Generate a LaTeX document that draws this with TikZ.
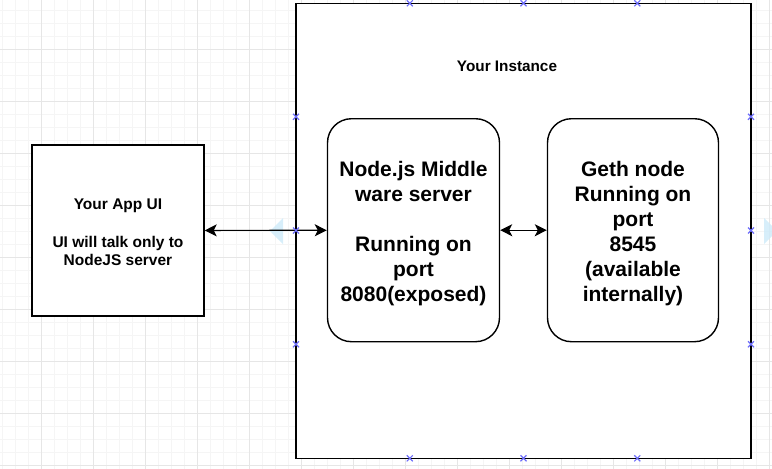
\documentclass[tikz,border=0pt]{standalone}
\usepackage{fontspec}
\setmainfont{Liberation Sans}
\usetikzlibrary{arrows.meta,positioning}
\definecolor{gridminor}{RGB}{245,245,245}
\definecolor{gridmajor}{RGB}{230,230,230}
\definecolor{handleblue}{RGB}{110,110,250}
\definecolor{hintblue}{RGB}{205,234,249}

\begin{document}
\begin{tikzpicture}[x=1pt,y=-1pt,>={Stealth[length=12pt,width=12pt,inset=3pt]}]
  \tikzstyle{box}=[rectangle,draw,line width=1.4pt,fill=white,align=center,font=\fontsize{15.5}{18.5}\selectfont\bfseries]
  \tikzstyle{roundbox}=[box,rounded corners=24pt,font=\fontsize{21}{25}\selectfont\bfseries]
  \tikzstyle{handle}=[handleblue,line width=1.2pt]
  \useasboundingbox (0,0) rectangle (772,469);
  % background grid
  \foreach \x in {2.5,15.5,...,772} \draw[gridminor,line width=1pt] (\x,0) -- (\x,469);
  \foreach \y in {10,23,...,469} \draw[gridminor,line width=1pt] (0,\y) -- (772,\y);
  \foreach \x in {41.5,93.5,...,772} \draw[gridmajor,line width=1pt] (\x,0) -- (\x,469);
  \foreach \y in {49,101,...,469} \draw[gridmajor,line width=1pt] (0,\y) -- (772,\y);
  % boxes
  \node[box,minimum width=455pt,minimum height=455pt] (instance) at (523.5,230.8) {};
  \node[font=\fontsize{15.3}{18}\selectfont\bfseries] (title) at (507,66) {Your Instance};
  \node[box,minimum width=172pt,minimum height=171pt] (app) at (118,230.5)
    {\rule{0pt}{14pt}Your App UI\\[19.5pt]UI will talk only to\\NodeJS server};
  \node[roundbox,minimum width=172pt,minimum height=223pt] (nodejs) at (413.5,230.2)
    {\rule{0pt}{21pt}Node.js Middle\\ware server\\[25pt]Running on\\port\\8080(exposed)};
  \node[roundbox,minimum width=171pt,minimum height=223pt] (geth) at (633,230.2)
    {\rule{0pt}{21pt}Geth node\\Running on\\port\\8545\\(available\\internally)};
  % hover hints
  \fill[hintblue,opacity=0.8] (270,231) -- (283,218) -- (283,244) -- cycle;
  \fill[hintblue,opacity=0.8] (777,231) -- (764,218) -- (764,244) -- cycle;
  % links
  \draw[<->,line width=1.2pt] (app) -- (nodejs);
  \draw[<->,line width=1.2pt] (nodejs) -- (geth);
  % selection handles
  \foreach \x/\y in {409.8/3.3,523.5/3.3,637.3/3.3,409.8/458.3,523.5/458.3,637.3/458.3,
                     296/116.8,296/230.5,296/344.3,751/116.8,751/230.5,751/344.3}
    \draw[handle] (\x-3,\y-3) -- (\x+3,\y+3) (\x-3,\y+3) -- (\x+3,\y-3);
\end{tikzpicture}
\end{document}
